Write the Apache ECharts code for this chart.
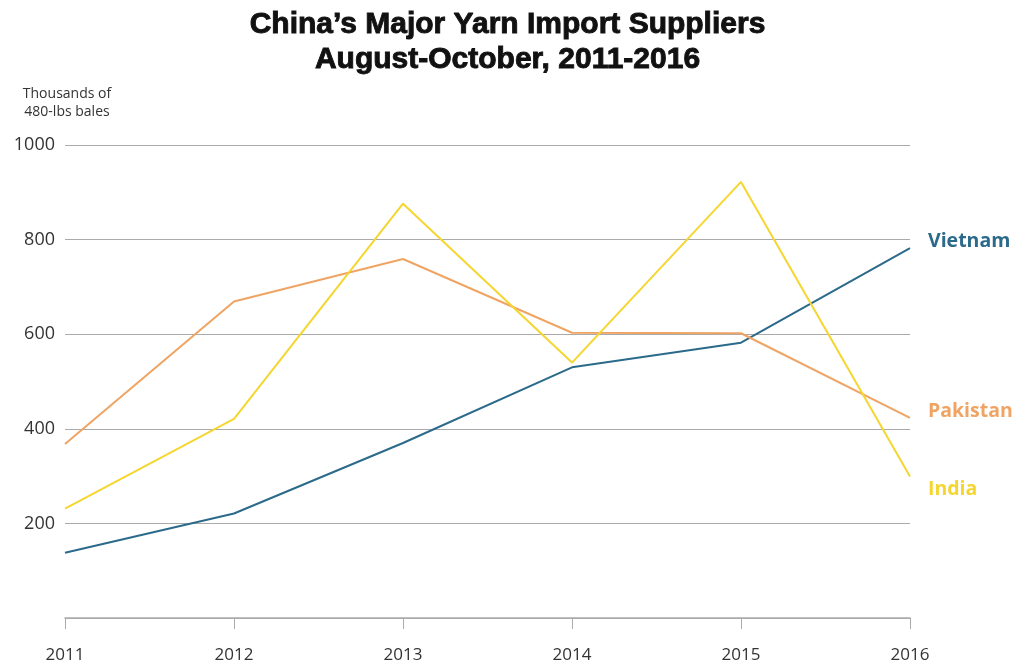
<!DOCTYPE html>
<html>
<head>
<meta charset="utf-8">
<script src="https://cdn.jsdelivr.net/npm/echarts@6/dist/echarts.min.js"></script>
<style>
  html, body { margin: 0; padding: 0; background: #fff; }
  #chart { width: 1015px; height: 666px; }
</style>
</head>
<body>
<div id="chart"></div>
<script>
// Yarn imports, August-October, thousands of 480-lb bales
const years = ['2011', '2012', '2013', '2014', '2015', '2016'];
const vietnam = [138, 221, 370, 530, 582, 782];
const pakistan = [368, 669, 759, 603, 602, 423];
const india = [231, 421, 876, 540, 922, 299];
const yTicks = [0, 200, 400, 600, 800, 1000];

const chart = echarts.init(document.getElementById('chart'));

function lineSeries(name, data, color, offsetY) {
  return {
    name: name,
    type: 'line',
    data: data,
    symbol: 'none',
    lineStyle: { color: color, width: 2 },
    itemStyle: { color: color },
    endLabel: {
      show: true,
      formatter: name,
      color: color,
      fontFamily: 'Open Sans',
      fontWeight: 'bold',
      fontSize: 19.5,
      distance: 18,
      offset: [0, offsetY]
    }
  };
}

chart.setOption({
  animation: false,
  backgroundColor: '#ffffff',
  title: {
    text: 'China\u2019s Major Yarn Import Suppliers\nAugust-October, 2011-2016',
    left: 'center',
    top: 2,
    textStyle: {
      fontFamily: 'Liberation Sans',
      fontWeight: 'bold',
      fontSize: 30,
      lineHeight: 35,
      color: '#111',
      textBorderColor: '#111',
      textBorderWidth: 0.9
    }
  },
  graphic: [{
    type: 'text',
    x: 67,
    y: 85,
    style: {
      text: 'Thousands of\n480-lbs bales',
      font: '14px "Open Sans"',
      lineHeight: 18,
      fill: '#333',
      align: 'center',
      textAlign: 'center'
    }
  }],
  grid: { left: 65, right: 105, top: 145, bottom: 48 },
  xAxis: {
    type: 'category',
    data: years,
    boundaryGap: false,
    axisLine: { lineStyle: { color: '#aaa', width: 1.5 } },
    axisTick: { show: true, length: 11, lineStyle: { color: '#aaa' } },
    axisLabel: {
      margin: 29,
      fontFamily: 'Open Sans',
      fontSize: 17,
      color: '#333'
    }
  },
  yAxis: {
    type: 'value',
    min: yTicks[0],
    max: yTicks[yTicks.length - 1],
    interval: 200,
    axisLine: { show: false },
    axisTick: { show: false },
    splitLine: { lineStyle: { color: '#aaa', width: 1.2 } },
    axisLabel: {
      margin: 10,
      fontFamily: 'Open Sans',
      fontSize: 18,
      color: '#333',
      formatter: v => (v === 0 ? '' : String(v))
    }
  },
  series: [
    lineSeries('Vietnam', vietnam, '#2b6a8a', -7),
    lineSeries('Pakistan', pakistan, '#f0a463', -6),
    lineSeries('India', india, '#f5d630', 13)
  ]
});
</script>
</body>
</html>
